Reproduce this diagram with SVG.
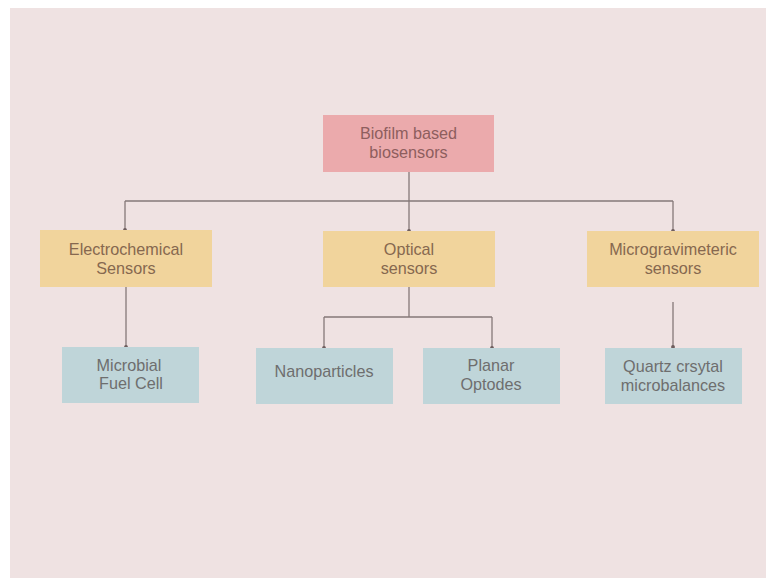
<svg xmlns="http://www.w3.org/2000/svg" width="766" height="579" viewBox="0 0 766 579">
<style>
.root{fill:#EBAAAC}
.mid{fill:#F1D49C}
.leaf{fill:#BFD5D9}
text{font-family:"Liberation Sans",Arial,sans-serif;font-size:16.2px;text-anchor:middle}
.troot{fill:#8E5E5E}
.tmid{fill:#86684F}
.tleaf{fill:#6E6E6E}
.conn{fill:none;stroke:#857878;stroke-width:1.3}
</style>
<defs>
<marker id="dot" viewBox="0 0 4 4" refX="2" refY="2" markerWidth="3" markerHeight="3" markerUnits="strokeWidth">
<circle cx="2" cy="2" r="2" fill="#6E5E5E"/>
</marker>
</defs>
<rect x="10" y="8" width="756" height="570" fill="#EFE2E2"/>
<g id="connectors">
<path class="conn" d="M409,172 V201"/>
<path class="conn" d="M125,201 H673"/>
<path class="conn" d="M125,201 V230" marker-end="url(#dot)"/>
<path class="conn" d="M409,201 V231" marker-end="url(#dot)"/>
<path class="conn" d="M673,201 V231" marker-end="url(#dot)"/>
<path class="conn" d="M126,287 V347" marker-end="url(#dot)"/>
<path class="conn" d="M409,287 V317 M324,317 H492"/>
<path class="conn" d="M324,317 V348" marker-end="url(#dot)"/>
<path class="conn" d="M492,317 V348" marker-end="url(#dot)"/>
<path class="conn" d="M673,302 V347" marker-end="url(#dot)"/>
</g>
<g id="root">
<rect class="root" x="323" y="115" width="171" height="57"/>
<text class="troot" x="408.5" y="139">Biofilm based</text>
<text class="troot" x="408.5" y="158">biosensors</text>
</g>
<g id="electrochemical">
<rect class="mid" x="40" y="230" width="172" height="57"/>
<text class="tmid" x="126" y="255">Electrochemical</text>
<text class="tmid" x="126" y="274">Sensors</text>
</g>
<g id="optical">
<rect class="mid" x="323" y="231" width="172" height="56"/>
<text class="tmid" x="409" y="255">Optical</text>
<text class="tmid" x="409" y="274">sensors</text>
</g>
<g id="microgravimetric">
<rect class="mid" x="587" y="231" width="172" height="56"/>
<text class="tmid" x="673" y="255">Microgravimeteric</text>
<text class="tmid" x="673" y="274">sensors</text>
</g>
<g id="microbial">
<rect class="leaf" x="62" y="347" width="137" height="56"/>
<text class="tleaf" x="129" y="371">Microbial</text>
<text class="tleaf" x="131" y="389">Fuel Cell</text>
</g>
<g id="nanoparticles">
<rect class="leaf" x="256" y="348" width="137" height="56"/>
<text class="tleaf" x="324" y="377">Nanoparticles</text>
</g>
<g id="planar">
<rect class="leaf" x="423" y="348" width="137" height="56"/>
<text class="tleaf" x="491" y="371">Planar</text>
<text class="tleaf" x="491" y="390">Optodes</text>
</g>
<g id="quartz">
<rect class="leaf" x="605" y="348" width="137" height="56"/>
<text class="tleaf" x="673" y="372">Quartz crsytal</text>
<text class="tleaf" x="673" y="391">microbalances</text>
</g>
</svg>
